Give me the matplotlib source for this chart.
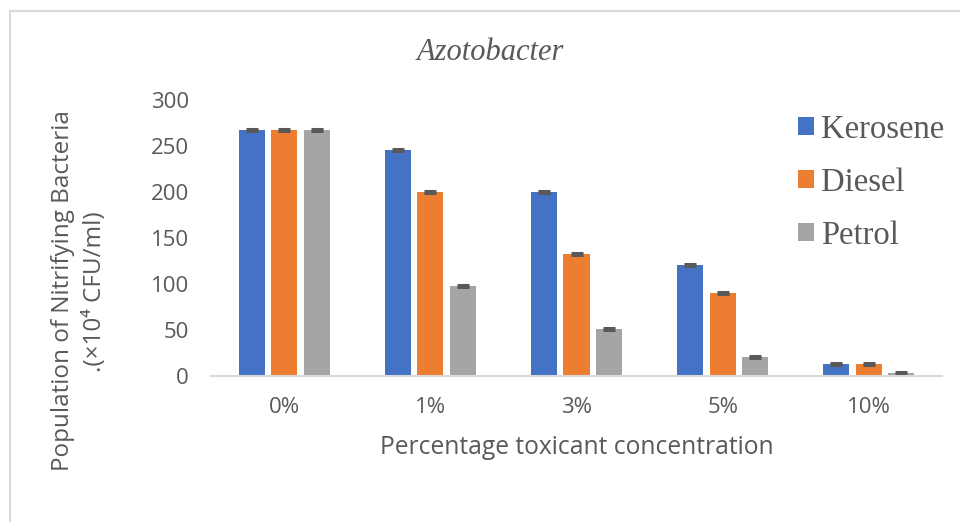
import matplotlib
matplotlib.use("Agg")
import matplotlib.pyplot as plt
import numpy as np
from matplotlib.lines import Line2D

categories = ["0%", "1%", "3%", "5%", "10%"]
kerosene = [267, 246, 200, 121, 13]
diesel = [267, 200, 133, 90, 13]
petrol = [267, 98, 51, 21, 3]
errors = [1, 1, 1, 1, 1]

series = [
    ("Kerosene", kerosene, "#4472C4"),
    ("Diesel", diesel, "#ED7D31"),
    ("Petrol", petrol, "#A5A5A5"),
]

text_gray = "#595959"
sans = ["Open Sans", "DejaVu Sans"]
serif = ["Liberation Serif", "DejaVu Serif"]

fig = plt.figure(figsize=(9.6, 5.22), dpi=100)
ax = fig.add_axes([211 / 960, 1 - 376 / 522, 731 / 960, 276 / 522])

x = np.arange(len(categories))
width = 0.178
step = 0.222
for i, (name, values, color) in enumerate(series):
    ax.bar(x + (i - 1) * step, values, width, color=color, label=name,
           yerr=errors, capsize=4,
           error_kw=dict(ecolor=text_gray, elinewidth=1.2, capthick=2.2))

ax.set_xlim(-0.5, len(categories) - 0.5)
ax.set_ylim(0, 300)
ax.set_yticks(range(0, 301, 50))
ax.set_xticks(x)
ax.set_xticklabels(categories)

for side in ("top", "right", "left"):
    ax.spines[side].set_visible(False)
ax.spines["bottom"].set_color("#D9D9D9")
ax.spines["bottom"].set_linewidth(1.5)
ax.tick_params(length=0, colors=text_gray, labelsize=16)
ax.tick_params(axis="x", pad=15)
ax.tick_params(axis="y", pad=16)
for lab in ax.get_xticklabels() + ax.get_yticklabels():
    lab.set_family(sans)

ax.set_xlabel("Percentage toxicant concentration", fontsize=17.7, color=text_gray,
              family=sans, labelpad=12)
fig.text(63 / 960, 1 - 291 / 522, "Population of Nitrifying Bacteria", rotation=90,
         ha="center", va="center", fontsize=17.5, color=text_gray, family=sans)
fig.text(95 / 960, 1 - 292 / 522, ".(\u00d710\u2074 CFU/ml)", rotation=90,
         ha="center", va="center", fontsize=17.5, color=text_gray, family=sans)

fig.text(490 / 960, 1 - 52 / 522, "Azotobacter", ha="center", va="center",
         fontsize=22, style="italic", color=text_gray, family=serif)

ax.legend(loc="upper left", bbox_to_anchor=(798 / 960, 1 - 114 / 522),
          bbox_transform=fig.transFigure, frameon=False, prop=dict(family=serif, size=23.5),
          labelcolor=text_gray, handlelength=0.49, handleheight=0.49,
          handletextpad=0.22, labelspacing=0.69, borderpad=0, borderaxespad=0)

# chart border (top and left edges only are visible)
fig.add_artist(Line2D([10 / 960, 10 / 960], [0, 1 - 11 / 522], color="#D9D9D9", lw=1.5))
fig.add_artist(Line2D([10 / 960, 1], [1 - 11 / 522, 1 - 11 / 522], color="#D9D9D9", lw=1.5))

fig.savefig("out.png", dpi=100)
